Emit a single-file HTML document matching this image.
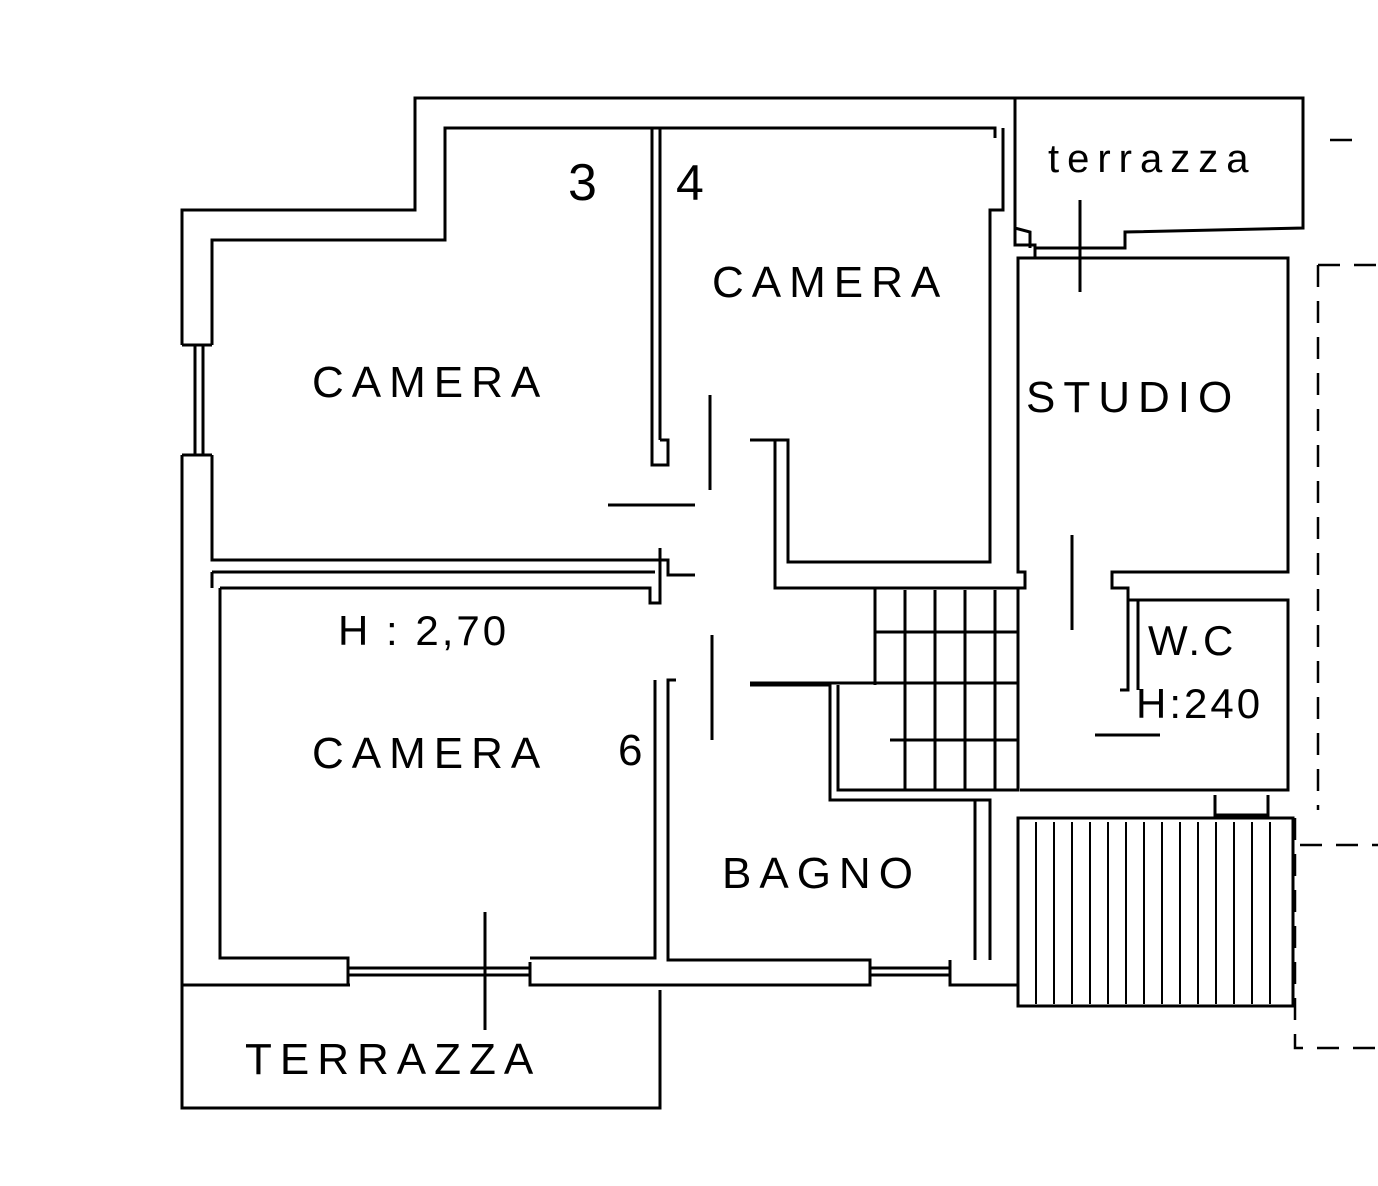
<!DOCTYPE html><html><head><style>body{margin:0;background:#fff}svg{display:block}text{font-family:"Liberation Sans",sans-serif;fill:#000}</style></head><body>
<svg width="1378" height="1186" viewBox="0 0 1378 1186" xmlns="http://www.w3.org/2000/svg">
<g fill="none" stroke="#000" stroke-width="3">
<!-- outer walls -->
<polyline points="182,345 182,210 415,210 415,98 1303,98 1303,228 1125,232 1125,248 1035,248"/>
<polyline points="212,345 212,240 445,240 445,128 995,128 995,138"/>
<polyline points="1015,98 1015,228 1030,232 1030,248"/>
<polyline points="195,345 195,455"/><polyline points="203,345 203,455"/>
<polyline points="182,345 212,345"/><polyline points="182,455 212,455"/>
<polyline points="182,455 182,1108 660,1108 660,990"/>
<polyline points="212,455 212,560 668,560 668,575 695,575"/>
<polyline points="212,572 655,572"/><polyline points="212,572 212,588"/>
<polyline points="182,985 350,985"/>
<polyline points="220,588 650,588 650,603 660,603 660,548"/>
<polyline points="220,588 220,958 348,958 348,985"/>
<polyline points="348,968 530,968"/><polyline points="348,975 530,975"/>
<polyline points="530,962 530,985 870,985 870,960 668,960 668,680 676,680"/>
<polyline points="655,680 655,958 530,958"/>
<polyline points="870,968 950,968"/><polyline points="870,975 950,975"/>
<polyline points="950,960 950,985 1018,985"/>
<polyline points="990,960 990,800 830,800 830,685 750,685"/>
<polyline points="975,960 975,800"/>
<!-- inner verticals -->
<polyline points="652,128 652,465 668,465 668,440 660,440"/>
<polyline points="660,128 660,440"/>
<polyline points="750,440 788,440 788,562 990,562 990,210 1003,210 1003,128"/>
<polyline points="775,440 775,588 1025,588 1025,572 1018,572 1018,258 1288,258 1288,572 1112,572 1112,588 1128,588 1128,690 1120,690"/>
<polyline points="1015,210 1015,245 1035,245 1035,258"/>
<polyline points="1128,600 1288,600 1288,790 1020,790"/>
<polyline points="1138,600 1138,690"/>
<!-- stairs -->
<polyline points="838,685 838,790 1018,790 1018,588"/>
<polyline points="875,588 875,685"/><polyline points="905,590 905,790"/><polyline points="935,590 935,790"/><polyline points="965,590 965,790"/><polyline points="995,590 995,790"/>
<polyline points="750,683 1018,683"/>
<polyline points="875,632 1018,632"/><polyline points="890,740 1018,740"/>
<!-- door lines -->
<line x1="608" y1="505" x2="695" y2="505"/><line x1="710" y1="395" x2="710" y2="490"/>
<line x1="712" y1="635" x2="712" y2="740"/><line x1="1072" y1="535" x2="1072" y2="630"/>
<line x1="1095" y1="735" x2="1160" y2="735"/><line x1="485" y1="912" x2="485" y2="1030"/>
<line x1="1080" y1="200" x2="1080" y2="292"/>
<!-- bottom right terrace -->
<rect x="1018" y="818" width="275" height="188"/>
<polyline points="1215,795 1215,815 1268,815 1268,795"/>
<!-- dashed -->
<g stroke-dasharray="22,14" stroke-width="2.5"><polyline points="1330,140 1360,140"/><polyline points="1318,265 1378,265"/><polyline points="1318,265 1318,810"/><polyline points="1295,818 1295,1048 1378,1048"/><polyline points="1300,845 1378,845"/></g>
</g>
<g stroke="#000" stroke-width="2">
<line x1="1036" y1="822" x2="1036" y2="1004"/><line x1="1054" y1="822" x2="1054" y2="1004"/><line x1="1072" y1="822" x2="1072" y2="1004"/><line x1="1090" y1="822" x2="1090" y2="1004"/><line x1="1108" y1="822" x2="1108" y2="1004"/><line x1="1126" y1="822" x2="1126" y2="1004"/><line x1="1144" y1="822" x2="1144" y2="1004"/><line x1="1162" y1="822" x2="1162" y2="1004"/><line x1="1180" y1="822" x2="1180" y2="1004"/><line x1="1198" y1="822" x2="1198" y2="1004"/><line x1="1216" y1="822" x2="1216" y2="1004"/><line x1="1234" y1="822" x2="1234" y2="1004"/><line x1="1252" y1="822" x2="1252" y2="1004"/><line x1="1270" y1="822" x2="1270" y2="1004"/>
</g>
<g font-size="44" letter-spacing="8">
<text x="312" y="397">CAMERA</text>
<text x="712" y="297">CAMERA</text>
<text x="1026" y="412">STUDIO</text>
<text x="312" y="768">CAMERA</text>
<text x="722" y="888">BAGNO</text>
<text x="245" y="1074">TERRAZZA</text>
<text x="1048" y="172" font-size="40">terrazza</text>
</g>
<g font-size="42" letter-spacing="3">
<text x="338" y="645">H : 2,70</text>
<text x="1148" y="655">W.C</text>
<text x="1136" y="718">H:240</text>
</g>
<text x="568" y="200" font-size="52">3</text>
<text x="676" y="200" font-size="50">4</text>
<text x="618" y="765" font-size="44">6</text>
</svg>
</body></html>
